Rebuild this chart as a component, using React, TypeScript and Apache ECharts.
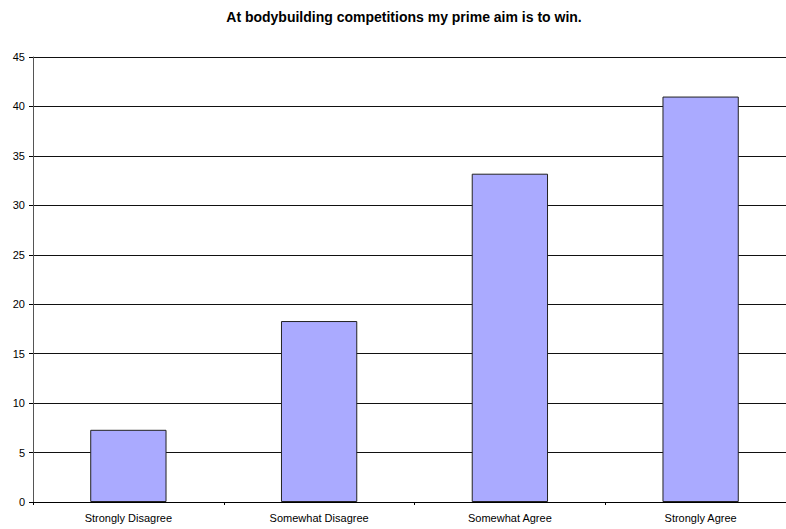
import React, { useEffect, useRef } from "react";
import * as echarts from "echarts";

const title = "At bodybuilding competitions my prime aim is to win.";
const categories = ["Strongly Disagree", "Somewhat Disagree", "Somewhat Agree", "Strongly Agree"];
const values = [7.3, 18.3, 33.2, 41.0];
const yMin = 0;
const yMax = 45;
const yInterval = 5;

export default function App() {
  const ref = useRef<HTMLDivElement>(null);
  useEffect(() => {
    if (!ref.current) return;
    const chart = echarts.init(ref.current, null, { renderer: "svg" });
    chart.setOption({
      animation: false,
      backgroundColor: "#ffffff",
      textStyle: { fontFamily: "Liberation Sans, Arial, sans-serif" },
      title: {
        text: title,
        left: 399,
        textAlign: "center",
        top: 5,
        textStyle: { fontSize: 14, fontWeight: "bold", color: "#000", fontFamily: "Liberation Sans, Arial, sans-serif" },
      },
      grid: { left: 33, right: 0, top: 57, bottom: 27, containLabel: false },
      xAxis: {
        type: "category",
        data: categories,
        axisLine: { show: true, lineStyle: { color: "#000", width: 1 } },
        axisTick: { show: true, alignWithLabel: false, length: 3, lineStyle: { color: "#000" } },
        axisLabel: { color: "#000", fontSize: 11, margin: 10, interval: 0 },
        splitLine: { show: false },
      },
      yAxis: {
        type: "value",
        min: yMin,
        max: yMax,
        interval: yInterval,
        axisLine: { show: true, lineStyle: { color: "#555", width: 1 } },
        axisTick: { show: true, length: 4, lineStyle: { color: "#000" } },
        axisLabel: { color: "#000", fontSize: 11, margin: 8 },
        splitLine: { show: true, lineStyle: { color: "#111", width: 1 } },
      },
      series: [
        {
          type: "bar",
          data: values,
          barWidth: "40%",
          itemStyle: { color: "#AAAAFF", borderColor: "#222", borderWidth: 1 },
        },
      ],
    });
    return () => chart.dispose();
  }, []);
  return (
    <div style={{ position: "fixed", left: 0, top: 0, width: 786, height: 529, overflow: "hidden", background: "#fff" }}>
      <div ref={ref} style={{ width: 796, height: 529 }} />
    </div>
  );
}
